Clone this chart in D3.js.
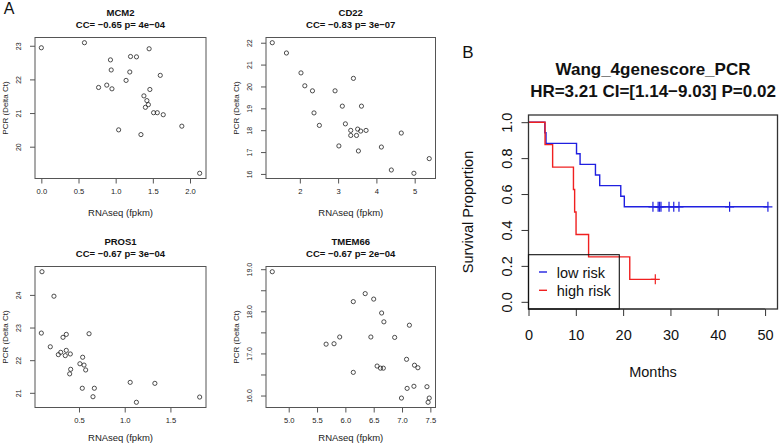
<!DOCTYPE html>
<html><head><meta charset="utf-8">
<script src="https://cdn.jsdelivr.net/npm/d3@7"></script>
<style>body{margin:0;background:#fff}svg{display:block}text{font-family:"Liberation Sans",Arial,sans-serif}</style>
</head><body><svg id="c" width="779" height="444"></svg>
<script>
// ---------- Panel A data (scatter plots) ----------
const mcm2X = [0.00,0.58,1.45,0.93,1.20,1.28,0.94,1.19,1.60,1.14,0.88,0.77,0.95,1.46,1.38,1.42,1.44,1.40,1.51,1.56,1.64,1.04,1.34,1.89,2.13];
const mcm2Y = [22.94,23.09,22.91,22.58,22.68,22.67,22.28,22.22,22.12,21.97,21.83,21.76,21.72,21.70,21.51,21.37,21.25,21.17,21.01,21.01,20.95,20.50,20.36,20.61,19.21];
const cd22X = [1.28,1.65,2.03,2.13,2.33,2.92,3.40,3.11,3.61,2.37,2.51,3.19,3.33,3.51,3.59,3.73,3.33,3.48,4.65,3.02,4.13,3.53,4.39,4.98,5.38];
const cd22Y = [22.00,21.53,20.62,20.03,19.80,19.80,20.37,19.10,19.10,18.79,18.22,18.29,17.99,18.05,17.96,17.99,17.76,17.76,17.87,17.28,17.23,17.05,16.18,16.03,16.70];
const pros1X = [0.095,0.226,0.088,0.325,0.361,0.61,0.186,0.30,0.274,0.361,0.35,0.405,0.54,0.51,0.555,0.573,0.409,0.398,0.536,0.668,0.653,1.06,1.33,1.128,1.82];
const pros1Y = [24.71,23.96,22.83,22.70,22.79,22.81,22.41,22.24,22.17,22.30,22.14,22.19,22.09,21.89,21.85,21.70,21.72,21.58,21.14,21.14,20.88,21.32,21.29,20.71,20.87];
const tmem66X = [4.71,6.14,6.35,6.50,6.64,6.68,7.13,5.90,6.45,6.87,5.66,5.80,7.08,6.56,6.62,6.67,7.22,7.28,6.14,7.21,7.09,7.44,6.99,7.48,7.46];
const tmem66Y = [18.94,18.23,18.42,18.29,17.96,17.75,17.67,17.39,17.39,17.38,17.22,17.23,16.86,16.70,16.65,16.65,16.72,16.66,16.55,16.22,16.17,16.21,15.94,15.94,15.84];

const genes = ["MCM2","CD22","PROS1","TMEM66"];
const ccLabels = ["CC= \u22120.65 p= 4e\u221204","CC= \u22120.83 p= 3e\u221207","CC= \u22120.67 p= 3e\u221204","CC= \u22120.67 p= 2e\u221204"];
const mcm2XTicks = [0,0.5,1,1.5,2], mcm2YTicks = [20,21,22,23];
const cd22XTicks = [2,3,4,5], cd22YTicks = [16,17,18,19,20,21,22];
const pros1XTicks = [0.5,1,1.5], pros1YTicks = [21,22,23,24];
const tmem66XTicks = [5,5.5,6,6.5,7,7.5], tmem66YTicks = [16,16.5,17,17.5,18,18.5,19];

// ---------- Panel B data (Kaplan-Meier) ----------
const lowTimes = [3.45,3.7,10.15,10.9,14.15,15.05,19.5,20.25];
const lowSurv  = [0.941,0.882,0.824,0.765,0.706,0.647,0.588,0.529];
const lowCensor = [26.3,27.4,27.7,28.0,29.7,30.7,31.8,42.5,50.6];
const highTimes = [3.5,5.1,9.5,9.75,10.05,12.7,21.4];
const highSurv  = [0.875,0.75,0.625,0.5,0.375,0.25,0.125];
const highCensor = [26.8];
const kmXTicks = [0,10,20,30,40,50];
const kmYTicks = [0,0.2,0.4,0.6,0.8,1.0];
const legendLabels = ["low risk","high risk"];

const svg = d3.select("#c");
svg.append("rect").attr("width",779).attr("height",444).attr("fill","#fff");

// ---------- scatter panels ----------
const panels = [
  {gene:genes[0], cc:ccLabels[0], x:mcm2X, y:mcm2Y, xt:mcm2XTicks, yt:mcm2YTicks, xf:d3.format(".1f"), yf:d3.format("d"), col:0,row:0},
  {gene:genes[1], cc:ccLabels[1], x:cd22X, y:cd22Y, xt:cd22XTicks, yt:cd22YTicks, xf:d3.format("d"), yf:d3.format("d"), col:1,row:0},
  {gene:genes[2], cc:ccLabels[2], x:pros1X, y:pros1Y, xt:pros1XTicks, yt:pros1YTicks, xf:d3.format(".1f"), yf:d3.format("d"), col:0,row:1},
  {gene:genes[3], cc:ccLabels[3], x:tmem66X, y:tmem66Y, xt:tmem66XTicks, yt:tmem66YTicks, xf:d3.format(".1f"), yf:v=>Number.isInteger(v)?v.toFixed(1):"", col:1,row:1}
];
const cols = [[35,206],[266,435.5]];
const rows = [[37.5,178.5],[266.5,407.5]];
const pad = e => { const r = e[1]-e[0]; return [e[0]-0.04*r, e[1]+0.04*r]; };
const txt = "#222";

panels.forEach(p => {
  const [x0,x1] = cols[p.col], [y0,y1] = rows[p.row];
  const xs = d3.scaleLinear().domain(pad(d3.extent(p.x))).range([x0,x1]);
  const ys = d3.scaleLinear().domain(pad(d3.extent(p.y))).range([y1,y0]);
  const g = svg.append("g");
  // x axis
  const xa = g.append("g").attr("transform",`translate(0,${y1})`)
    .call(d3.axisBottom(xs).tickValues(p.xt).tickFormat(p.xf).tickSize(5).tickSizeOuter(0));
  xa.select(".domain").remove();
  xa.selectAll("line").attr("stroke","#555");
  xa.selectAll("text").attr("y",10.5).attr("font-size",7.6).attr("fill",txt).attr("font-family","Liberation Sans, Arial, sans-serif");
  // y axis
  const ya = g.append("g").attr("transform",`translate(${x0},0)`)
    .call(d3.axisLeft(ys).tickValues(p.yt).tickFormat(p.yf).tickSize(5).tickSizeOuter(0));
  ya.select(".domain").remove();
  ya.selectAll("line").attr("stroke","#555");
  ya.selectAll("text").attr("x",0).attr("dy",null).attr("text-anchor","middle").attr("dominant-baseline","central")
    .attr("transform","translate(-16.5,0) rotate(-90)").attr("font-size",7).attr("fill",txt).attr("font-family","Liberation Sans, Arial, sans-serif");
  // box
  g.append("rect").attr("x",x0).attr("y",y0).attr("width",x1-x0).attr("height",y1-y0)
    .attr("fill","none").attr("stroke","#555").attr("stroke-width",1);
  // points
  g.selectAll("circle").data(p.x.map((v,i)=>[v,p.y[i]])).join("circle")
    .attr("cx",d=>xs(d[0])).attr("cy",d=>ys(d[1])).attr("r",2.1)
    .attr("fill","none").attr("stroke","#222").attr("stroke-width",0.8);
  // titles
  const cx = (x0+x1)/2;
  g.append("text").attr("x",cx).attr("y",y0-25).attr("text-anchor","middle").attr("dominant-baseline","central")
    .attr("font-size",9.5).attr("font-weight","bold").attr("fill","#111").text(p.gene);
  g.append("text").attr("x",cx).attr("y",y0-13.5).attr("text-anchor","middle").attr("dominant-baseline","central")
    .attr("font-size",9.5).attr("font-weight","bold").attr("fill","#111").text(p.cc);
  g.append("text").attr("x",cx).attr("y",Math.min(y1+33.5,437.5)).attr("text-anchor","middle").attr("dominant-baseline","central")
    .attr("font-size",9.5).attr("fill",txt).text("RNAseq (fpkm)");
  g.append("text").attr("transform",`translate(${x0-30},${(y0+y1)/2}) rotate(-90)`).attr("text-anchor","middle").attr("dominant-baseline","central")
    .attr("font-size",8).attr("fill",txt).text("PCR (Delta Ct)");
});

svg.append("text").attr("x",9).attr("y",8).attr("text-anchor","middle").attr("dominant-baseline","central").attr("font-size",16).attr("fill","#111").text("A");
svg.append("text").attr("x",468).attr("y",52).attr("text-anchor","middle").attr("dominant-baseline","central").attr("font-size",17).attr("fill","#111").text("B");

// ---------- Kaplan-Meier panel ----------
const kx0 = 528.5, kx1 = 777.5, ky0 = 115, ky1 = 309;
const kxs = d3.scaleLinear().domain([0, d3.max(lowCensor)*1.04]).range([kx0,kx1]);
const kys = d3.scaleLinear().domain([-0.04,1.04]).range([ky1,ky0]);
const k = svg.append("g");

const kxa = k.append("g").attr("transform",`translate(0,${ky1})`)
  .call(d3.axisBottom(kxs).tickValues(kmXTicks).tickFormat(d3.format("d")).tickSize(7).tickSizeOuter(0));
kxa.select(".domain").attr("d",`M${kxs(0)},0H${kxs(50)}`).attr("stroke","#333");
kxa.selectAll("line").attr("stroke","#333");
kxa.selectAll("text").attr("dy","0.71em").attr("font-size",14.5).attr("fill","#111").attr("font-family","Liberation Sans, Arial, sans-serif")
  .attr("y",21);
const kya = k.append("g").attr("transform",`translate(${kx0},0)`)
  .call(d3.axisLeft(kys).tickValues(kmYTicks).tickFormat(d3.format(".1f")).tickSize(7).tickSizeOuter(0));
kya.select(".domain").remove();
kya.selectAll("line").attr("stroke","#333");
kya.selectAll("text").attr("x",0).attr("dy",null).attr("text-anchor","middle").attr("dominant-baseline","central")
  .attr("transform","translate(-21.5,0) rotate(-90)").attr("font-size",14.5).attr("fill","#111").attr("font-family","Liberation Sans, Arial, sans-serif");

function stepPts(times, surv, censor){
  const pts = [[0,1]];
  times.forEach((t,i)=>pts.push([t,surv[i]]));
  pts.push([d3.max(censor), surv[surv.length-1]]);
  return pts;
}
function survAt(times, surv, t){ let s=1; times.forEach((tt,i)=>{ if(tt<=t) s=surv[i]; }); return s; }
const line = d3.line().x(d=>kxs(d[0])).y(d=>kys(d[1])).curve(d3.curveStepAfter);
const groups = [
  {times:lowTimes, surv:lowSurv, censor:lowCensor, color:"#2020e0"},
  {times:highTimes, surv:highSurv, censor:highCensor, color:"#f02020"}
];
groups.forEach(gr=>{
  k.append("path").attr("d",line(stepPts(gr.times,gr.surv,gr.censor))).attr("fill","none")
    .attr("stroke",gr.color).attr("stroke-width",1.4);
  gr.censor.forEach(t=>{
    const cx = kxs(t), cy = kys(survAt(gr.times,gr.surv,t));
    k.append("path").attr("d",`M${cx-4.5},${cy}H${cx+4.5}M${cx},${cy-5}V${cy+5}`)
      .attr("stroke",gr.color).attr("stroke-width",1.2).attr("fill","none");
  });
});

k.append("rect").attr("x",kx0).attr("y",ky0).attr("width",kx1-kx0).attr("height",ky1-ky0)
  .attr("fill","none").attr("stroke","#333").attr("stroke-width",1.3);

// legend
k.append("rect").attr("x",kx0).attr("y",254.7).attr("width",619.3-kx0).attr("height",ky1-254.7)
  .attr("fill","none").attr("stroke","#111").attr("stroke-width",1.1);
legendLabels.forEach((lab,i)=>{
  const ly = 272 + i*18.3;
  k.append("line").attr("x1",539).attr("x2",547).attr("y1",ly).attr("y2",ly).attr("stroke",groups[i].color).attr("stroke-width",1.4);
  k.append("text").attr("x",556.7).attr("y",ly+1).attr("dominant-baseline","central").attr("font-size",14.5).attr("fill","#111").text(lab);
});

// titles
const kcx = (kx0+kx1)/2;
k.append("text").attr("x",kcx).attr("y",69).attr("text-anchor","middle").attr("dominant-baseline","central")
  .attr("font-size",17).attr("font-weight","bold").attr("fill","#111").text("Wang_4genescore_PCR");
k.append("text").attr("x",kcx).attr("y",91).attr("text-anchor","middle").attr("dominant-baseline","central")
  .attr("font-size",17).attr("font-weight","bold").attr("fill","#111").text("HR=3.21 CI=[1.14\u22129.03] P=0.02");
k.append("text").attr("x",kcx).attr("y",371.7).attr("text-anchor","middle").attr("dominant-baseline","central")
  .attr("font-size",14.5).attr("fill","#111").text("Months");
k.append("text").attr("transform",`translate(468,${(ky0+ky1)/2}) rotate(-90)`).attr("text-anchor","middle").attr("dominant-baseline","central")
  .attr("font-size",14.5).attr("fill","#111").text("Survival Proportion");
</script></body></html>
